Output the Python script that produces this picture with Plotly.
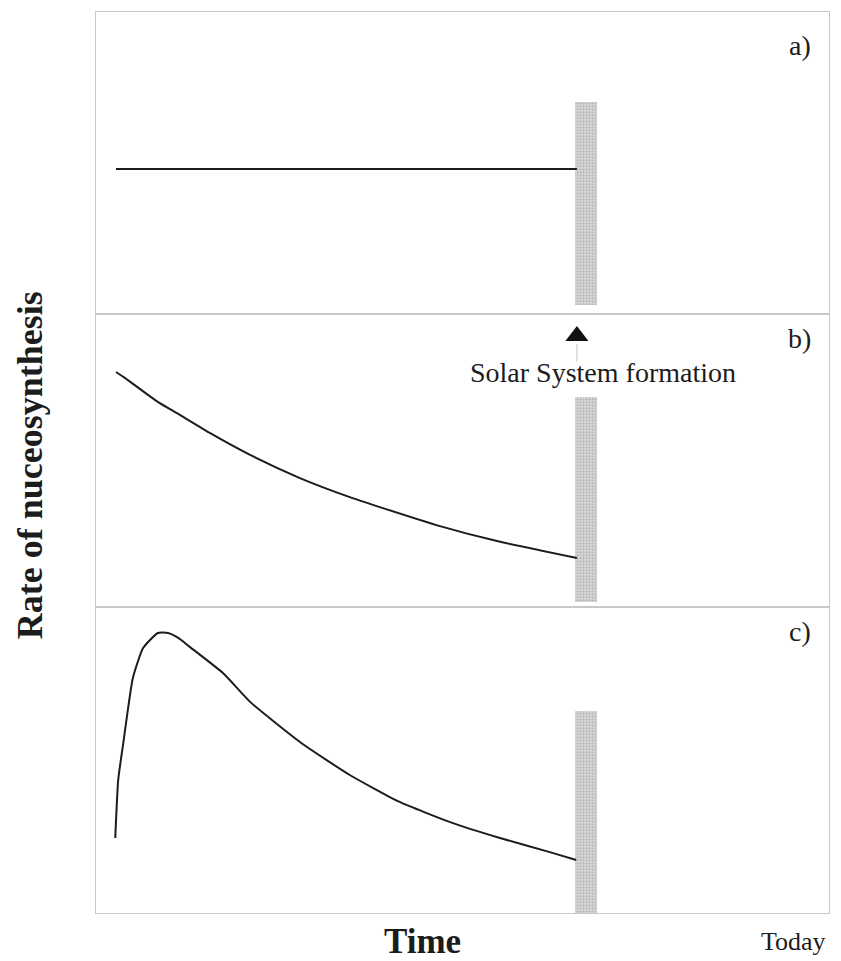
import plotly.graph_objects as go
from plotly.subplots import make_subplots

# ---- data (arbitrary time / rate units) ----
time_a = [0, 62.9]
rate_a = [48.0, 48.0]

time_b = [0, 1.2, 5.7, 8.7, 12.8, 18.3, 25.1, 31.9, 36.0, 44.2, 52.0, 62.9]
rate_b = [80.2, 78.2, 70.0, 65.6, 59.4, 51.9, 44.0, 37.5, 34.1, 27.6, 22.5, 16.7]

time_c = [-0.1, 0.3, 1.0, 2.3, 3.7, 5.7, 7.1, 8.5, 10.1, 14.6, 18.3, 25.1,
          31.9, 38.7, 45.6, 52.4, 59.2, 62.8]
rate_c = [24.5, 43.5, 55.6, 76.8, 86.6, 91.5, 91.5, 89.9, 86.9, 78.4, 69.0,
          55.9, 45.1, 36.3, 29.7, 24.5, 19.9, 17.3]

formation_time = 64.1
formation_width = 3.0
bar_bottom = [3.0, 1.7, 0.0]
bar_top = [70.2, 71.7, 66.0]

panel_labels = ["a)", "b)", "c)"]
marker_time = 62.9
marker_rate = 92.5
stem_rate = [89.8, 83.6]

FONT = "Liberation Serif"
INK = "#1c1c1c"

fig = make_subplots(rows=3, cols=1, shared_xaxes=True, vertical_spacing=0)

curves = [(time_a, rate_a), (time_b, rate_b), (time_c, rate_c)]
for i, (t, r) in enumerate(curves):
    row = i + 1
    fig.add_trace(go.Bar(
        x=[formation_time], y=[bar_top[i] - bar_bottom[i]], base=[bar_bottom[i]],
        width=[formation_width],
        marker=dict(color="#dcdcdc", line=dict(width=0),
                    pattern=dict(shape=".", fgcolor="#8f8f8f", bgcolor="#dcdcdc",
                                 size=3, solidity=0.45)),
        showlegend=False, hoverinfo="skip"), row=row, col=1)
    fig.add_trace(go.Scatter(
        x=t, y=r, mode="lines",
        line=dict(color=INK, width=2, shape="spline", smoothing=0.5),
        showlegend=False), row=row, col=1)

# arrow marking Solar System formation
fig.add_trace(go.Scatter(
    x=[marker_time, marker_time], y=stem_rate, mode="lines",
    line=dict(color="#c8c8c8", width=1), showlegend=False), row=2, col=1)
fig.add_trace(go.Scatter(
    x=[marker_time], y=[marker_rate], mode="markers",
    marker=dict(symbol="triangle-up", size=20, color="#111111"),
    showlegend=False), row=2, col=1)

H = 901.0
doms = [(599 / H, 1.0), (306 / H, 599 / H), (0.0, 306 / H)]
for i in range(3):
    yname = "yaxis" if i == 0 else f"yaxis{i+1}"
    xname = "xaxis" if i == 0 else f"xaxis{i+1}"
    fig.layout[yname].update(domain=list(doms[i]), range=[0, 100], showgrid=False,
                             zeroline=False, showticklabels=False, ticks="",
                             showline=True, mirror=True, linecolor="#c8c8c8", linewidth=1)
    fig.layout[xname].update(range=[-2.73, 97.3], showgrid=False, zeroline=False,
                             showticklabels=False, ticks="", showline=True, mirror=True,
                             linecolor="#c8c8c8", linewidth=1)


def note(text, x, y, size, angle=0):
    return dict(text=text, x=x, y=y, xref="paper", yref="paper", showarrow=False,
                xanchor="center", yanchor="middle", textangle=angle,
                font=dict(family=FONT, size=size, color=INK))


ann = []
label_pos = [(0.960, 0.963), (0.960, 0.638), (0.960, 0.312)]
for lab, (px, py) in zip(panel_labels, label_pos):
    ann.append(note(lab, px, py, 28))
ann.append(note("Solar System formation", 0.692, 0.600, 28))
ann.append(note("<b>Time</b>", 0.446, -0.032, 35))
ann.append(note("Today", 0.951, -0.032, 26))
ann.append(note("<b>Rate of nuceosynthesis</b>", -0.090, 0.497, 36, angle=-90))

fig.update_layout(width=841, height=961, margin=dict(l=96, r=12, t=12, b=48),
                  paper_bgcolor="white", plot_bgcolor="white", annotations=ann,
                  barmode="overlay", bargap=0)

fig.write_html("out.html")
